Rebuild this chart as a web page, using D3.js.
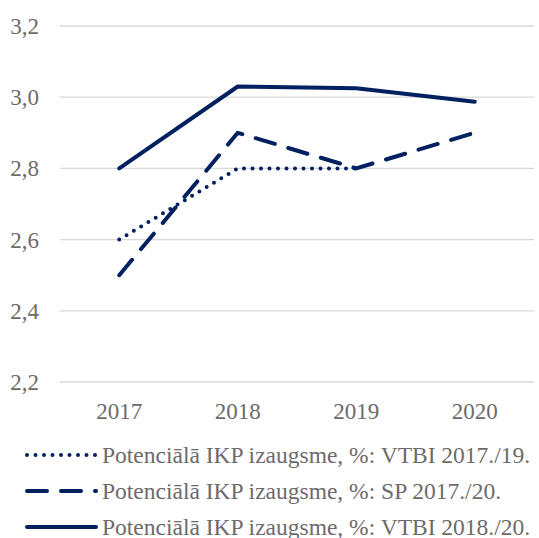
<!doctype html>
<html>
<head>
<meta charset="utf-8" />
<script src="https://d3js.org/d3.v7.min.js"></script>
<style>
	body { margin: 0; background: #fff; }
	svg { display: block; }
	text { font-family: "Liberation Serif", "Times New Roman", serif; fill: #6e6a6a; }
</style>
</head>
<body>
<div id="app"></div>
<script>
const years = ['2017', '2018', '2019', '2020'];
const yTicks = [2.2, 2.4, 2.6, 2.8, 3.0, 3.2];
const vtbi1719 = [2.6, 2.8, 2.8, null];
const sp1720 = [2.5, 2.9, 2.8, 2.9];
const vtbi1820 = [2.8, 3.03, 3.025, 2.987];
const seriesNames = [
	'Potenciālā IKP izaugsme, %: VTBI 2017./19.',
	'Potenciālā IKP izaugsme, %: SP 2017./20.',
	'Potenciālā IKP izaugsme, %: VTBI 2018./20.'
];

const width = 539, height = 538;
const navy = '#002060';
const styles = [
	{ dash: '0,8.5', cap: 'round' },
	{ dash: '20,14', cap: 'round' },
	{ dash: null, cap: 'round' }
];
const allSeries = [vtbi1719, sp1720, vtbi1820];

const svg = d3.select('#app').append('svg').attr('width', width).attr('height', height);

const x = d3.scaleBand().domain(years).range([60, 534]);
const y = d3.scaleLinear().domain([2.2, 3.2]).range([382, 26]);

// gridlines
svg.append('g').selectAll('line')
	.data(yTicks)
	.join('line')
	.attr('x1', 60).attr('x2', 534)
	.attr('y1', d => y(d)).attr('y2', d => y(d))
	.attr('stroke', '#d9d9d9').attr('stroke-width', 1.3);

// y labels
svg.append('g').selectAll('text')
	.data(yTicks)
	.join('text')
	.attr('x', 39).attr('y', d => y(d) + 8)
	.attr('text-anchor', 'end')
	.style('font-size', '23px')
	.text(d => d.toFixed(1).replace('.', ','));

// x labels
svg.append('g').selectAll('text')
	.data(years)
	.join('text')
	.attr('x', d => x(d) + x.bandwidth() / 2).attr('y', 419)
	.attr('text-anchor', 'middle')
	.style('font-size', '23px')
	.text(d => d);

const line = d3.line()
	.defined(d => d.v != null)
	.x(d => x(d.year) + x.bandwidth() / 2)
	.y(d => y(d.v));

allSeries.forEach((s, i) => {
	const pts = years.map((yr, j) => ({ year: yr, v: s[j] }));
	svg.append('path')
		.datum(pts)
		.attr('d', line)
		.attr('fill', 'none')
		.attr('stroke', navy)
		.attr('stroke-width', 4)
		.attr('stroke-linecap', styles[i].cap)
		.attr('stroke-linejoin', 'round')
		.attr('stroke-dasharray', styles[i].dash);
});

// legend
const legY = [455, 491, 527];
seriesNames.forEach((name, i) => {
	svg.append('line')
		.attr('x1', 27).attr('x2', 96)
		.attr('y1', legY[i]).attr('y2', legY[i])
		.attr('stroke', navy)
		.attr('stroke-width', 4)
		.attr('stroke-linecap', styles[i].cap)
		.attr('stroke-dasharray', styles[i].dash);
	svg.append('text')
		.attr('x', 102).attr('y', legY[i] + 8)
		.style('font-size', '23.5px')
		.text(name);
});
</script>
</body>
</html>
